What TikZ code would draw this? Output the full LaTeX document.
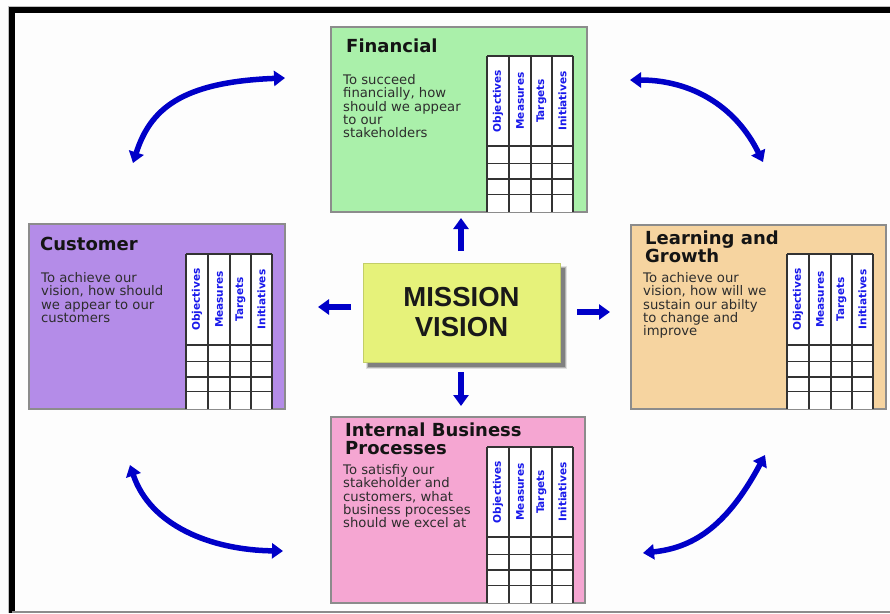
\documentclass[tikz,border=0pt]{standalone}
\usepackage{fontspec}
\setmainfont{DejaVu Sans}
\newfontfamily\mvfont{Liberation Sans}
\usetikzlibrary{arrows.meta}

\definecolor{pagebg}{RGB}{253,253,253}
\definecolor{finfill}{RGB}{170,240,170}
\definecolor{custfill}{RGB}{180,140,232}
\definecolor{learnfill}{RGB}{246,212,160}
\definecolor{intfill}{RGB}{245,166,210}
\definecolor{mvfill}{RGB}{230,242,122}
\definecolor{arrowblue}{RGB}{0,0,200}
\definecolor{hdrblue}{RGB}{25,25,235}
\definecolor{bodygray}{RGB}{45,45,45}

\tikzset{
  perspective/.style={draw=black!45, line width=1.1pt, rectangle, inner sep=0pt, outer sep=0pt, anchor=north west},
  boxtitle/.style={inner sep=0pt, text=black!92, font=\fontsize{18}{18}\selectfont\bfseries, align=left},
  boxbody/.style={inner sep=0pt, text=bodygray, font=\fontsize{13.2}{13.4}\selectfont, align=left, anchor=north west},
  hdr/.style={inner sep=0pt, rotate=90, text=hdrblue, font=\fontsize{10.5}{12}\selectfont\bfseries},
  gridline/.style={draw=black!80, line width=1.1pt},
  bscarrow/.style={draw=arrowblue, line width=5.5pt, -{Triangle[width=15pt,length=11pt]}},
  bscdouble/.style={draw=arrowblue, line width=5.5pt, {Triangle[width=15pt,length=11pt]}-{Triangle[width=15pt,length=11pt]}},
}

% measure grid: #1 name prefix, #2 left, #3 top, #4 header bottom, #5 bottom
\newcommand\bscgrid[5]{%
  \fill[white] (#2,#3) rectangle ({#2+86},#5);
  \foreach \dx in {0,22,44,65,86} \draw[gridline] ({#2+\dx},#3) -- ({#2+\dx},#5);
  \draw[gridline] (#2,#3) -- ({#2+86},#3);
  \foreach \f in {0,0.26,0.5,0.73}
    \draw[gridline] (#2,{#4+\f*(#5-#4)}) -- ({#2+86},{#4+\f*(#5-#4)});
  \node[hdr] (#1-obj) at ({#2+11},{(#3+#4)/2}) {Objectives};
  \node[hdr] (#1-mea) at ({#2+33},{(#3+#4)/2}) {Measures};
  \node[hdr] (#1-tar) at ({#2+54.5},{(#3+#4)/2}) {Targets};
  \node[hdr] (#1-ini) at ({#2+75.5},{(#3+#4)/2}) {Initiatives};
}

\begin{document}
\begin{tikzpicture}[x=1pt,y=-1pt]
\fill[pagebg] (0,0) rectangle (890,613);
\useasboundingbox (0,0) rectangle (890,613);

% frame
\draw[black!25, line width=1pt] (8.5,613) -- (8.5,6.8) -- (890,6.8);
\draw[black, line width=6pt, line join=miter] (12,613) -- (12,10.3) -- (890,10.3);
\draw[black!45, line width=2pt] (12,612) -- (890,612);

% Financial
\node[perspective, fill=finfill, minimum width=256pt, minimum height=185pt] (fin) at (331,27) {};
\node[boxtitle, anchor=base west] (fin-title) at (346,52) {Financial};
\node[boxbody] (fin-text) at (343,74) {To succeed\\financially, how\\should we appear\\to our\\stakeholders};
\bscgrid{fin}{487}{56}{146}{212}

% Customer
\node[perspective, fill=custfill, minimum width=256pt, minimum height=185pt] (cust) at (29,224) {};
\node[boxtitle, anchor=base west] (cust-title) at (40,250) {Customer};
\node[boxbody] (cust-text) at (41,272) {To achieve our\\vision, how should\\we appear to our\\customers};
\bscgrid{cust}{186}{254}{345}{409}

% Learning and Growth
\node[perspective, fill=learnfill, minimum width=255pt, minimum height=184pt] (learn) at (631,225) {};
\node[boxtitle, anchor=north west] (learn-title) at (645,230.3) {Learning and\\Growth};
\node[boxbody] (learn-text) at (643,272) {To achieve our\\vision, how will we\\sustain our abilty\\to change and\\improve};
\bscgrid{learn}{787}{254}{345}{409}

% Internal Business Processes
\node[perspective, fill=intfill, minimum width=254pt, minimum height=186pt] (intern) at (331,417) {};
\node[boxtitle, anchor=north west] (intern-title) at (345,422.3) {Internal Business\\Processes};
\node[boxbody] (intern-text) at (343,464) {To satisfiy our\\stakeholder and\\customers, what\\business processes\\should we excel at};
\bscgrid{intern}{487}{447}{537}{603}

% Mission / Vision with drop shadow
\fill[black!12] (366,266) rectangle (567,369);
\fill[black!30] (367,267) rectangle (566,368);
\fill[black!50] (368,268) rectangle (565,367);
\node[rectangle, fill=mvfill, draw=mvfill!85!black, line width=0.6pt, minimum width=197pt, minimum height=99pt, inner sep=0pt,
      font=\mvfont\fontsize{27.5}{30}\selectfont\bfseries, text=black!90, align=center] (mv) at (461.5,312.5) {MISSION\\VISION};

% straight arrows out of the centre
\coordinate (up-from) at (461,251);  \coordinate (up-to) at (461,218);
\coordinate (dn-from) at (461,372);  \coordinate (dn-to) at (461,406);
\coordinate (lf-from) at (351,307);  \coordinate (lf-to) at (318,307);
\coordinate (rt-from) at (577,312);  \coordinate (rt-to) at (610,312);
\draw[bscarrow] (up-from) -- (up-to);
\draw[bscarrow] (dn-from) -- (dn-to);
\draw[bscarrow] (lf-from) -- (lf-to);
\draw[bscarrow] (rt-from) -- (rt-to);

% curved two-way arrows between the perspectives
\coordinate (tl-a) at (133,163); \coordinate (tl-b) at (285,78);
\coordinate (tr-a) at (630,80);  \coordinate (tr-b) at (763,162);
\coordinate (bl-a) at (130,465); \coordinate (bl-b) at (283,551);
\coordinate (br-a) at (643,553); \coordinate (br-b) at (765,455);
\draw[bscdouble] (tl-a) .. controls (150,110) and (180,82) .. (tl-b);
\draw[bscdouble] (tr-a) .. controls (690,80) and (735,105) .. (tr-b);
\draw[bscdouble] (bl-a) .. controls (150,525) and (210,550) .. (bl-b);
\draw[bscdouble] (br-a) .. controls (690,548) and (725,530) .. (br-b);
\end{tikzpicture}
\end{document}
